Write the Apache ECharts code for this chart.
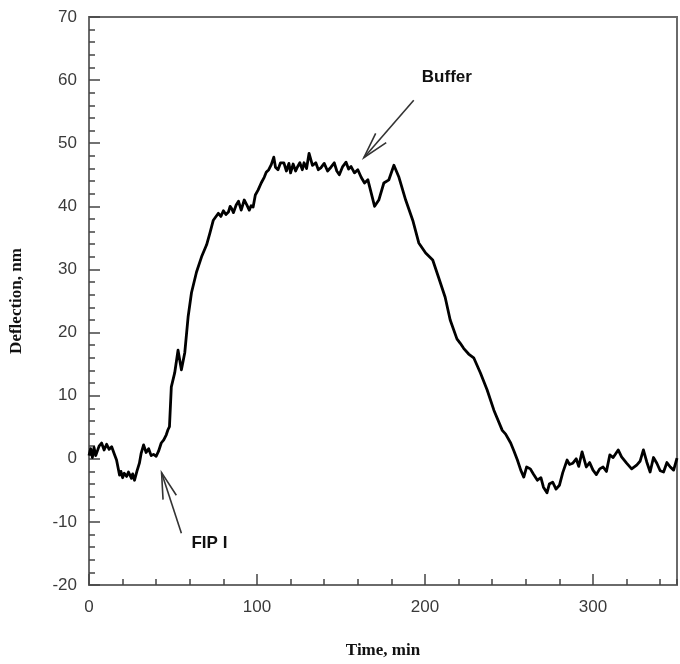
<!DOCTYPE html>
<html>
<head>
<meta charset="utf-8">
<script src="https://cdn.jsdelivr.net/npm/echarts@6/dist/echarts.min.js"></script>
<style>
html,body{margin:0;padding:0;background:#fff;}
#chart{width:680px;height:664px;}
</style>
</head>
<body>
<div id="chart"></div>
<script>
// ---- data ----
var timeMin = [0,1,2,3,4,5,6,7.5,9,10.5,12,13.5,15,16.4,18.2,19,20,21,22.4,23.5,25.3,26,27.1,28.5,30,31,32.5,34,35.5,37,38.4,40,41.4,43,44.5,46,47,47.9,
  49,51,53,55,57,59,61,64,67,70,72,74,77,78.5,80,81.5,83,84,85,86,87.6,89,90.6,92.4,94,95.4,96.5,
  97.7,99,100.7,102.5,104.3,105.5,107,108.5,110,111,112.5,114,116,117.5,119,120,121.5,123,124,125.5,127,128,129.5,131,133,135,136.5,138,140,142,144,146,147.5,149,151,153,154.5,156,158,160,162,164,166,168,
  170,172.5,175.5,178.5,181.5,184.5,188.5,192.7,196.3,200.4,204.6,208,212,215,219,221,223,226,229,233,237,241,
  246,248,251,253,255,257,258.8,260.5,262.7,264.5,266.9,269,270.5,272.6,274,276,278,280,282,284.6,286,288,290,291.5,293.5,296,298,300,302,304,306,308,310,312,315,317,320,323,326,328,330,332,334,336,338,340,342,344,346,348,350];
var deflection = [0.5,1.6,0.2,1.8,0.5,0.8,2.0,2.5,1.4,2.3,1.5,1.9,0.8,-0.2,-2.6,-2.0,-3.0,-2.3,-2.8,-2.1,-3.1,-2.4,-3.4,-2.0,-0.7,0.8,2.2,1.0,1.6,0.5,0.7,0.4,1.2,2.5,3.0,3.8,4.6,5.1,
  11.4,13.6,17.2,14.1,16.8,22.5,26.3,29.6,32.0,33.9,35.8,37.8,38.9,38.4,39.3,38.7,39.1,40.0,39.6,39.0,40.2,40.8,39.4,41.0,40.2,39.4,40.1,
  39.9,41.8,42.6,43.7,44.6,45.4,45.8,46.6,47.8,46.2,45.8,46.9,46.9,45.6,46.8,45.3,46.7,45.6,46.2,46.9,45.8,46.9,46.0,48.4,46.5,46.9,45.8,46.1,46.8,45.6,46.2,46.9,45.6,45.0,46.3,47.0,45.9,46.3,45.3,45.8,44.6,43.7,44.2,42.1,
  40.0,41.0,43.7,44.2,46.5,44.6,41.0,37.8,34.2,32.6,31.5,28.8,25.6,22.0,19.0,18.3,17.5,16.6,16.0,13.6,10.9,7.7,
  4.5,3.9,2.5,1.2,-0.2,-1.8,-2.9,-1.3,-1.6,-2.4,-3.4,-3.0,-4.5,-5.4,-4.0,-3.7,-4.8,-4.2,-2.2,-0.2,-0.9,-0.7,0.0,-1.2,1.1,-1.3,-0.6,-1.8,-2.5,-1.6,-1.3,-2.0,0.6,0.2,1.4,0.3,-0.7,-1.6,-1.0,-0.4,1.4,-0.5,-2.1,0.2,-0.7,-1.9,-2.1,-0.6,-1.3,-1.8,0.1];
var xTicks = [0,100,200,300];
var yTicks = [-20,-10,0,10,20,30,40,50,60,70];
// annotations: label, text position, arrow tail, arrow tip (data coordinates)
var annBuffer = {label:'Buffer', text:[213,60.5], tail:[193.3,56.8], tip:[163.6,47.7]};
var annFIP = {label:'FIP I', text:[61,-13.4], tail:[55,-11.8], tip:[43.2,-2.2]};

var series = timeMin.map(function(t,i){return [t, deflection[i]];});

var chart = echarts.init(document.getElementById('chart'));
var axisCol = '#6a6a6a';
var labelStyle = {color:'#3a3a3a', fontFamily:'Liberation Sans, Arial, sans-serif', fontSize:17};
var titleStyle = {color:'#111', fontFamily:'Liberation Serif, Times New Roman, serif', fontSize:17, fontWeight:'bold'};

var option = {
  animation:false,
  backgroundColor:'#fff',
  grid:{left:87, right:3, top:17, bottom:79, show:true, borderColor:axisCol, borderWidth:2, backgroundColor:'transparent'},
  xAxis:[{
    type:'value', min:0, max:350, interval:100, position:'bottom',
    axisLine:{show:true, onZero:false, lineStyle:{color:axisCol, width:2}},
    axisTick:{show:true, inside:true, length:11, lineStyle:{color:'#444', width:1.5}},
    axisLabel:Object.assign({show:true, margin:14, showMaxLabel:false, formatter:function(v){return xTicks.indexOf(v)>=0? String(v):'';}}, labelStyle),
    splitLine:{show:false},
    name:'Time, min', nameLocation:'middle', nameGap:57, nameTextStyle:titleStyle
  },{
    type:'value', min:0, max:350, interval:20, position:'bottom',
    axisLine:{show:false, onZero:false},
    axisTick:{show:true, inside:true, length:6, lineStyle:{color:'#444', width:1.5}},
    axisLabel:{show:false}, splitLine:{show:false}
  }],
  yAxis:[{
    type:'value', min:-20, max:70, interval:10, position:'left',
    axisLine:{show:true, onZero:false, lineStyle:{color:axisCol, width:2}},
    axisTick:{show:true, inside:true, length:11, lineStyle:{color:'#444', width:1.5}},
    axisLabel:Object.assign({show:true, margin:12, formatter:function(v){return yTicks.indexOf(v)>=0? String(v):'';}}, labelStyle),
    splitLine:{show:false},
    name:'Deflection, nm', nameLocation:'middle', nameGap:64, nameRotate:90, nameTextStyle:titleStyle
  },{
    type:'value', min:-20, max:70, interval:2, position:'left',
    axisLine:{show:false, onZero:false},
    axisTick:{show:true, inside:true, length:6, lineStyle:{color:'#444', width:1.5}},
    axisLabel:{show:false}, splitLine:{show:false}
  }],
  series:[{
    type:'line', data:series, xAxisIndex:0, yAxisIndex:0,
    showSymbol:false, symbol:'none', smooth:false,
    lineStyle:{color:'#000', width:2.8, join:'round'}
  }]
};
chart.setOption(option);

function arrowGraphics(a){
  var tip = chart.convertToPixel({xAxisIndex:0,yAxisIndex:0}, a.tip);
  var tail = chart.convertToPixel({xAxisIndex:0,yAxisIndex:0}, a.tail);
  var ang = Math.atan2(tail[1]-tip[1], tail[0]-tip[0]);
  var L = 27, spread = 15*Math.PI/180;
  var h1 = [tip[0]+L*Math.cos(ang-spread), tip[1]+L*Math.sin(ang-spread)];
  var h2 = [tip[0]+L*Math.cos(ang+spread), tip[1]+L*Math.sin(ang+spread)];
  var st = {stroke:'#333', lineWidth:1.6};
  return [
    {type:'line', shape:{x1:tail[0],y1:tail[1],x2:tip[0],y2:tip[1]}, style:st, z:10},
    {type:'polyline', shape:{points:[h1,tip,h2]}, style:{stroke:'#333', lineWidth:1.6, fill:null}, z:10}
  ];
}
function labelGraphic(a, align){
  var p = chart.convertToPixel({xAxisIndex:0,yAxisIndex:0}, a.text);
  return {type:'text', x:p[0], y:p[1], z:10, style:{text:a.label, fill:'#111', font:'bold 17px "Liberation Sans", Arial, sans-serif', textAlign:align, textVerticalAlign:'middle'}};
}
var g = [].concat(arrowGraphics(annBuffer), arrowGraphics(annFIP), [labelGraphic(annBuffer,'center'), labelGraphic(annFIP,'left')]);
chart.setOption({graphic:g});
</script>
</body>
</html>
